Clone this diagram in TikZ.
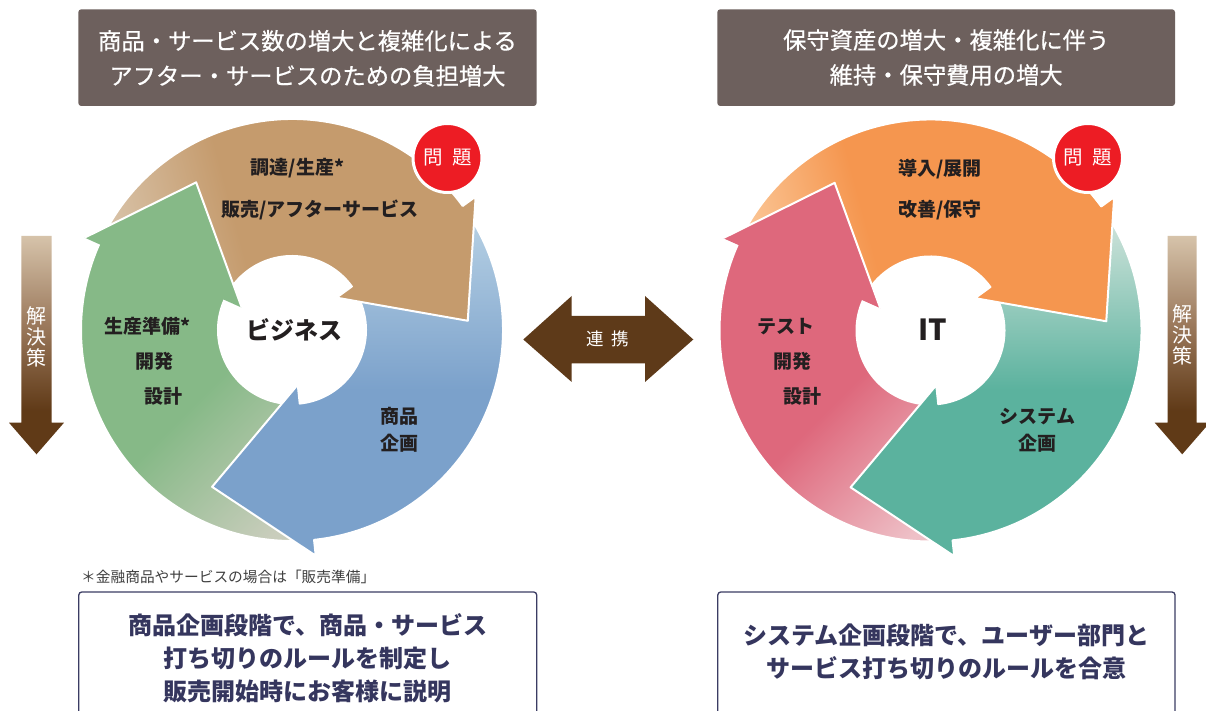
\documentclass[tikz,border=0pt]{standalone}
\usepackage{fontspec}
\setmainfont{Noto Sans CJK JP}
\newfontfamily\jpmed[FakeBold=0.6]{Noto Sans CJK JP}
\definecolor{titleC}{HTML}{6D605D}
\definecolor{botC}{HTML}{3B3C63}
\definecolor{botText}{HTML}{35365E}
\definecolor{labelC}{HTML}{231F20}
\definecolor{noteC}{HTML}{404040}
\definecolor{brMain}{HTML}{C59B6D}
\definecolor{brLight}{HTML}{D9C5AC}
\definecolor{blMain}{HTML}{7BA1CB}
\definecolor{blLight}{HTML}{B2CDE2}
\definecolor{grMain}{HTML}{86B987}
\definecolor{grLight}{HTML}{C9CDBC}
\definecolor{orMain}{HTML}{F5964F}
\definecolor{orLight}{HTML}{FBC899}
\definecolor{tlMain}{HTML}{5BB29E}
\definecolor{tlLight}{HTML}{C8E0D7}
\definecolor{pkMain}{HTML}{DE687C}
\definecolor{pkLight}{HTML}{EEC0C7}
\definecolor{probRed}{HTML}{ED1C24}
\definecolor{linkC}{HTML}{5E3A19}
\definecolor{sideTop}{HTML}{D6C3AA}
\definecolor{sideMid}{HTML}{9C7A5D}
\definecolor{sideBot}{HTML}{603A17}
\pgfdeclareverticalshading{shBr}{100bp}{color(0bp)=(brLight); color(48bp)=(brLight); color(52bp)=(brMain); color(100bp)=(brMain)}
\pgfdeclareverticalshading{shBl}{100bp}{color(0bp)=(blLight); color(48bp)=(blLight); color(52bp)=(blMain); color(100bp)=(blMain)}
\pgfdeclareverticalshading{shGr}{100bp}{color(0bp)=(grLight); color(48bp)=(grLight); color(52bp)=(grMain); color(100bp)=(grMain)}
\pgfdeclareverticalshading{shOr}{100bp}{color(0bp)=(orLight); color(48bp)=(orLight); color(52bp)=(orMain); color(100bp)=(orMain)}
\pgfdeclareverticalshading{shTl}{100bp}{color(0bp)=(tlLight); color(48bp)=(tlLight); color(52bp)=(tlMain); color(100bp)=(tlMain)}
\pgfdeclareverticalshading{shPk}{100bp}{color(0bp)=(pkLight); color(48bp)=(pkLight); color(52bp)=(pkMain); color(100bp)=(pkMain)}
\pgfdeclareverticalshading{shSide}{100bp}{color(0bp)=(sideBot); color(35bp)=(sideBot); color(55bp)=(sideMid); color(75bp)=(sideTop); color(100bp)=(sideTop)}
\newcommand{\arwpath}[1]{({#1+153}:211) arc[start angle={#1+153}, end angle={#1+36}, radius=211] -- ({#1+36}:227) -- ({#1+3}:176) -- ({#1+36}:55) -- ({#1+36}:74) arc[start angle={#1+36}, end angle={#1+153}, radius=74] -- cycle}
\newcommand{\headpath}[1]{({#1+36}:227) -- ({#1+3}:176) -- ({#1+36}:55) -- cycle}
\newcommand{\headedge}[1]{({#1+36}:227) -- ({#1+3}:176) -- ({#1+36}:55)}
% #1,#2 centre, #3 offset angle, #4 shading, #5 shading angle, #6,#7 gradient centre, #8 half size
\newcommand{\cyclearrow}[8]{%
  \begin{scope}
    \clip[shift={(#1,#2)}] \arwpath{#3};
    \shade[shading=#4, shading angle=#5] ({#6-#8},{#7-#8}) rectangle ({#6+#8},{#7+#8});
  \end{scope}
  \draw[wline, shift={(#1,#2)}] \arwpath{#3};
}
\newcommand{\cyclehead}[8]{%
  \begin{scope}
    \clip[shift={(#1,#2)}] \headpath{#3};
    \shade[shading=#4, shading angle=#5] ({#6-#8},{#7-#8}) rectangle ({#6+#8},{#7+#8});
  \end{scope}
  \draw[wline, shift={(#1,#2)}] \headedge{#3};
}
\tikzset{
  wline/.style={draw=white, line width=2pt, line join=round},
  lbl/.style={text=labelC, font=\fontsize{19}{24}\selectfont\bfseries, inner sep=0pt},
  biglbl/.style={text=labelC, font=\fontsize{24}{28}\selectfont\bfseries, inner sep=0pt},
  ttl/.style={text=white, font=\jpmed\fontsize{23.3}{35}\selectfont, align=center, inner sep=0pt},
  btm/.style={text=botText, font=\fontsize{24}{33}\selectfont\bfseries, align=center, inner sep=0pt},
  prob/.style={circle, fill=probRed, draw=white, line width=3pt, minimum size=69pt, inner sep=0pt, text=white, font=\fontsize{19.5}{19.5}\selectfont},
  sidetxt/.style={text=white, font=\fontsize{20}{21}\selectfont, align=center, inner sep=0pt},
  note/.style={text=noteC, font=\fontsize{14.7}{15}\selectfont, inner sep=0pt, anchor=west}
}
\begin{document}
\begin{tikzpicture}[x=1pt,y=1pt]
\useasboundingbox (0,0) rectangle (1206,711);
\fill[white] (0,0) rectangle (1206,711);

% ---------- title boxes
\fill[titleC, rounded corners=3pt] (78.3,605) rectangle (536.7,701.7);
\fill[titleC, rounded corners=3pt] (717.3,605) rectangle (1175,701.7);
\node[ttl] (tl) at (307.5,652.7) {商品・サービス数の増大と複雑化による\\アフター・サービスのための負担増大};
\node[ttl] (tr) at (946.2,653.5) {保守資産の増大・複雑化に伴う\\維持・保守費用の増大};

% ---------- left cycle (business)
\cyclearrow{292}{381}{120}{shGr}{45}{215}{223}{937.5}
\cyclearrow{292}{381}{-120}{shBl}{180}{470}{401}{1000}
\cyclearrow{292}{381}{0}{shBr}{-75}{165}{501}{812.5}
\cyclehead{292}{381}{120}{shGr}{45}{215}{223}{937.5}

% ---------- right cycle (IT)
\cyclearrow{930.5}{380.5}{120}{shPk}{45}{855}{223}{937.5}
\cyclearrow{930.5}{380.5}{-120}{shTl}{180}{1110}{401}{1000}
\cyclearrow{930.5}{380.5}{0}{shOr}{-75}{800}{501}{750}
\cyclehead{930.5}{380.5}{120}{shPk}{45}{855}{223}{937.5}

% ---------- problem badges
\node[prob] (p1) at (447.5,553) {問\hspace{0.5em}題};
\node[prob] (p2) at (1088,553) {問\hspace{0.5em}題};

% ---------- left labels
\node[lbl] (a1) at (297.5,542.7) {調達/生産*};
\node[lbl] (a2) at (320,501) {販売/アフターサービス};
\node[biglbl] (a0) at (294,381) {ビジネス};
\node[lbl] (a3) at (147.5,384.3) {生産準備*};
\node[lbl] (a4) at (154.5,349.3) {開発};
\node[lbl] (a5) at (163.7,314.3) {設計};
\node[lbl] (a6) at (399,294.3) {商品};
\node[lbl] (a7) at (399,267.7) {企画};

% ---------- right labels
\node[lbl] (b1) at (940,541.7) {導入/展開};
\node[lbl] (b2) at (940,501) {改善/保守};
\node[text=labelC, font=\fontsize{29}{30}\selectfont\bfseries, inner sep=0pt] (b0) at (933,381.5) {IT};
\node[lbl] (b3) at (786,384.3) {テスト};
\node[lbl] (b4) at (792.5,349.3) {開発};
\node[lbl] (b5) at (802,314.3) {設計};
\node[lbl] (b6) at (1037.5,294.3) {システム};
\node[lbl] (b7) at (1037.5,267.7) {企画};

% ---------- link arrow
\fill[linkC] (523.3,371.5) -- (571.7,415) -- (571.7,395) -- (645,395) -- (645,415) -- (693.3,371.5)
  -- (645,329) -- (645,347.7) -- (571.7,347.7) -- (571.7,329) -- cycle;
\node[text=white, font=\fontsize{17.5}{17.5}\selectfont, inner sep=0pt] (lk) at (608,372.5) {連\hspace{0.45em}携};

% ---------- side arrows
\shade[shading=shSide] (21.3,475) -- (51.7,475) -- (51.7,288.3) -- (64,288.3) -- (36.5,256.7) -- (9,288.3) -- (21.3,288.3) -- cycle;
\node[sidetxt] (s1) at (36.5,374.5) {解\\決\\策};
\shade[shading=shSide] (1167.7,475) -- (1196.7,475) -- (1196.7,288.3) -- (1209.7,288.3) -- (1182.2,256.7) -- (1154.7,288.3) -- (1167.7,288.3) -- cycle;
\node[sidetxt] (s2) at (1182.2,376) {解\\決\\策};

% ---------- footnote
\node[note] (fn) at (81,134) {＊金融商品やサービスの場合は「販売準備」};

% ---------- bottom boxes
\draw[botC, line width=1.3pt, rounded corners=3pt] (78.8,-10) -- (78.8,119) -- (536.7,119) -- (536.7,-10);
\draw[botC, line width=1.3pt, rounded corners=3pt] (717.8,-10) -- (717.8,119) -- (1175,119) -- (1175,-10);
\node[btm] (bl) at (307.8,53) {商品企画段階で、商品・サービス\\打ち切りのルールを制定し\\販売開始時にお客様に説明};
\node[btm] (br) at (946.4,59.5) {システム企画段階で、ユーザー部門と\\サービス打ち切りのルールを合意};
\end{tikzpicture}
\end{document}
